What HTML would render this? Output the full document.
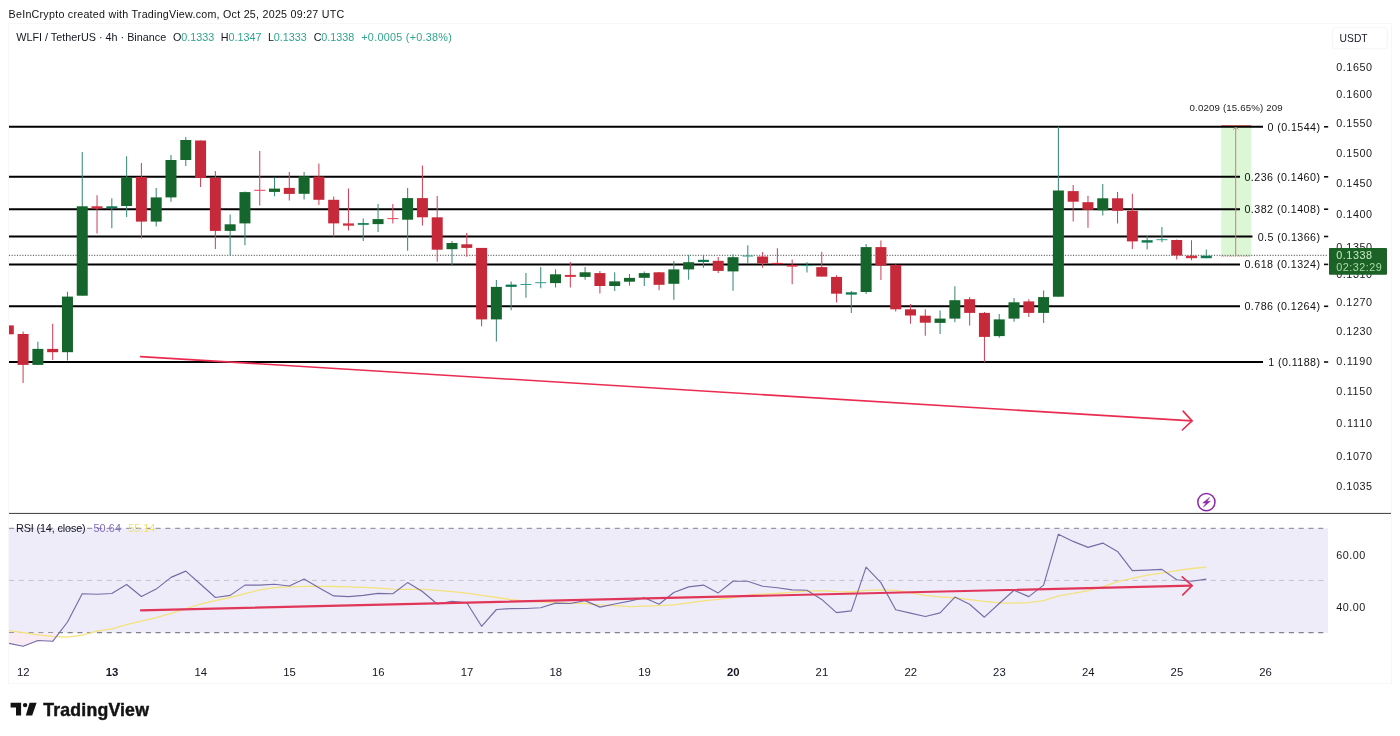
<!DOCTYPE html>
<html lang="en"><head><meta charset="utf-8"><title>WLFI / TetherUS 4h chart</title>
<style>html,body{margin:0;padding:0;background:#fff;}body{width:1400px;height:736px;overflow:hidden;}svg{display:block;}text{font-family:'Liberation Sans', sans-serif;}</style>
</head><body>
<svg width="1400" height="736" viewBox="0 0 1400 736">
<defs><clipPath id="pane"><rect x="9" y="24" width="1319" height="489"/></clipPath><clipPath id="rsipane"><rect x="9" y="514" width="1319" height="142"/></clipPath></defs>
<rect width="1400" height="736" fill="#ffffff"/>
<text x="8.6" y="17.5" font-size="10.7" fill="#111111" textLength="335.6" lengthAdjust="spacing">BeInCrypto created with TradingView.com, Oct 25, 2025 09:27 UTC</text>
<rect x="8.5" y="23.5" width="1383" height="660" fill="none" stroke="#f7f7f7" stroke-width="1"/>
<rect x="9" y="528.4" width="1319" height="104.3" fill="#efecf9"/>
<rect x="1221.2" y="126.5" width="30" height="129.5" fill="#dcf7d6"/>
<line x1="1221.2" y1="125.9" x2="1251.2" y2="125.9" stroke="#e0453a" stroke-width="1.2"/>
<g stroke="#000000" stroke-width="2">
<line x1="9" y1="126.8" x2="1263" y2="126.8"/>
<line x1="9" y1="176.8" x2="1240" y2="176.8"/>
<line x1="9" y1="209.2" x2="1240" y2="209.2"/>
<line x1="9" y1="236.5" x2="1252.5" y2="236.5"/>
<line x1="9" y1="264.4" x2="1240" y2="264.4"/>
<line x1="9" y1="306.3" x2="1240" y2="306.3"/>
<line x1="9" y1="362.0" x2="1263" y2="362.0"/>
</g>
<g stroke="#000000" stroke-width="2">
</g>
<line x1="9" y1="255.4" x2="1328" y2="255.4" stroke="#666e68" stroke-width="1.1" stroke-dasharray="1.1 1.56"/>
<g clip-path="url(#pane)">
<g stroke-width="1.05"><line x1="8.30" y1="325.4" x2="8.30" y2="334.3" stroke="#d2435a"/><line x1="23.09" y1="331.4" x2="23.09" y2="382.9" stroke="#d2435a"/><line x1="37.88" y1="341.7" x2="37.88" y2="364.9" stroke="#3b8a78"/><line x1="52.67" y1="323.7" x2="52.67" y2="360.0" stroke="#d2435a"/><line x1="67.46" y1="291.7" x2="67.46" y2="360.6" stroke="#3b8a78"/><line x1="82.25" y1="152.0" x2="82.25" y2="295.7" stroke="#3b8a78"/><line x1="97.04" y1="195.2" x2="97.04" y2="233.6" stroke="#d2435a"/><line x1="111.83" y1="198.3" x2="111.83" y2="228.3" stroke="#3b8a78"/><line x1="126.62" y1="156.3" x2="126.62" y2="217.1" stroke="#3b8a78"/><line x1="141.41" y1="163.1" x2="141.41" y2="238.6" stroke="#d2435a"/><line x1="156.20" y1="188.0" x2="156.20" y2="226.6" stroke="#3b8a78"/><line x1="170.99" y1="154.9" x2="170.99" y2="201.7" stroke="#3b8a78"/><line x1="185.78" y1="136.9" x2="185.78" y2="166.0" stroke="#3b8a78"/><line x1="200.57" y1="140.5" x2="200.57" y2="187.1" stroke="#d2435a"/><line x1="215.36" y1="170.9" x2="215.36" y2="248.9" stroke="#d2435a"/><line x1="230.15" y1="214.6" x2="230.15" y2="255.2" stroke="#3b8a78"/><line x1="244.94" y1="191.4" x2="244.94" y2="245.3" stroke="#3b8a78"/><line x1="259.73" y1="150.9" x2="259.73" y2="205.4" stroke="#d2435a"/><line x1="274.52" y1="177.7" x2="274.52" y2="196.3" stroke="#3b8a78"/><line x1="289.31" y1="172.0" x2="289.31" y2="200.6" stroke="#d2435a"/><line x1="304.10" y1="172.0" x2="304.10" y2="199.4" stroke="#3b8a78"/><line x1="318.89" y1="163.4" x2="318.89" y2="205.1" stroke="#d2435a"/><line x1="333.68" y1="196.5" x2="333.68" y2="236.5" stroke="#d2435a"/><line x1="348.47" y1="188.6" x2="348.47" y2="230.6" stroke="#d2435a"/><line x1="363.26" y1="218.6" x2="363.26" y2="241.1" stroke="#3b8a78"/><line x1="378.05" y1="204.1" x2="378.05" y2="232.0" stroke="#3b8a78"/><line x1="392.84" y1="204.1" x2="392.84" y2="223.4" stroke="#d2435a"/><line x1="407.63" y1="187.9" x2="407.63" y2="250.8" stroke="#3b8a78"/><line x1="422.42" y1="165.5" x2="422.42" y2="225.5" stroke="#d2435a"/><line x1="437.21" y1="196.0" x2="437.21" y2="261.7" stroke="#d2435a"/><line x1="452.00" y1="241.1" x2="452.00" y2="265.7" stroke="#3b8a78"/><line x1="466.79" y1="232.9" x2="466.79" y2="256.7" stroke="#d2435a"/><line x1="481.58" y1="247.9" x2="481.58" y2="326.3" stroke="#d2435a"/><line x1="496.37" y1="280.0" x2="496.37" y2="341.4" stroke="#3b8a78"/><line x1="511.16" y1="281.4" x2="511.16" y2="310.3" stroke="#3b8a78"/><line x1="525.95" y1="273.1" x2="525.95" y2="297.7" stroke="#3b8a78"/><line x1="540.74" y1="267.1" x2="540.74" y2="288.2" stroke="#3b8a78"/><line x1="555.53" y1="269.2" x2="555.53" y2="287.4" stroke="#3b8a78"/><line x1="570.32" y1="262.0" x2="570.32" y2="287.4" stroke="#d2435a"/><line x1="585.11" y1="267.1" x2="585.11" y2="279.7" stroke="#3b8a78"/><line x1="599.90" y1="270.9" x2="599.90" y2="293.4" stroke="#d2435a"/><line x1="614.69" y1="272.3" x2="614.69" y2="291.1" stroke="#3b8a78"/><line x1="629.48" y1="274.0" x2="629.48" y2="285.7" stroke="#3b8a78"/><line x1="644.27" y1="271.4" x2="644.27" y2="286.0" stroke="#3b8a78"/><line x1="659.06" y1="272.0" x2="659.06" y2="290.3" stroke="#d2435a"/><line x1="673.85" y1="261.1" x2="673.85" y2="299.7" stroke="#3b8a78"/><line x1="688.64" y1="254.8" x2="688.64" y2="279.7" stroke="#3b8a78"/><line x1="703.43" y1="254.8" x2="703.43" y2="267.7" stroke="#3b8a78"/><line x1="718.22" y1="256.9" x2="718.22" y2="273.1" stroke="#d2435a"/><line x1="733.01" y1="254.3" x2="733.01" y2="290.8" stroke="#3b8a78"/><line x1="747.80" y1="245.2" x2="747.80" y2="263.2" stroke="#3b8a78"/><line x1="762.59" y1="252.1" x2="762.59" y2="267.7" stroke="#d2435a"/><line x1="777.38" y1="248.3" x2="777.38" y2="264.2" stroke="#d2435a"/><line x1="792.17" y1="259.4" x2="792.17" y2="284.3" stroke="#d2435a"/><line x1="806.96" y1="262.3" x2="806.96" y2="272.6" stroke="#3b8a78"/><line x1="821.75" y1="251.7" x2="821.75" y2="276.6" stroke="#d2435a"/><line x1="836.54" y1="275.2" x2="836.54" y2="302.6" stroke="#d2435a"/><line x1="851.33" y1="291.1" x2="851.33" y2="313.1" stroke="#3b8a78"/><line x1="866.12" y1="244.0" x2="866.12" y2="294.1" stroke="#3b8a78"/><line x1="880.91" y1="240.6" x2="880.91" y2="280.0" stroke="#d2435a"/><line x1="895.70" y1="264.2" x2="895.70" y2="311.4" stroke="#d2435a"/><line x1="910.49" y1="304.0" x2="910.49" y2="323.7" stroke="#d2435a"/><line x1="925.28" y1="309.3" x2="925.28" y2="335.7" stroke="#d2435a"/><line x1="940.07" y1="310.5" x2="940.07" y2="334.0" stroke="#3b8a78"/><line x1="954.86" y1="286.3" x2="954.86" y2="322.3" stroke="#3b8a78"/><line x1="969.65" y1="297.1" x2="969.65" y2="325.4" stroke="#d2435a"/><line x1="984.44" y1="312.0" x2="984.44" y2="362.3" stroke="#d2435a"/><line x1="999.23" y1="313.9" x2="999.23" y2="337.8" stroke="#3b8a78"/><line x1="1014.02" y1="298.0" x2="1014.02" y2="321.7" stroke="#3b8a78"/><line x1="1028.81" y1="299.2" x2="1028.81" y2="316.9" stroke="#d2435a"/><line x1="1043.60" y1="290.6" x2="1043.60" y2="322.9" stroke="#3b8a78"/><line x1="1058.39" y1="126.6" x2="1058.39" y2="296.7" stroke="#3b8a78"/><line x1="1073.18" y1="184.9" x2="1073.18" y2="221.4" stroke="#d2435a"/><line x1="1087.97" y1="195.7" x2="1087.97" y2="227.8" stroke="#d2435a"/><line x1="1102.76" y1="184.1" x2="1102.76" y2="215.4" stroke="#3b8a78"/><line x1="1117.55" y1="192.0" x2="1117.55" y2="223.5" stroke="#d2435a"/><line x1="1132.34" y1="193.7" x2="1132.34" y2="249.1" stroke="#d2435a"/><line x1="1147.13" y1="236.0" x2="1147.13" y2="249.5" stroke="#3b8a78"/><line x1="1161.92" y1="227.1" x2="1161.92" y2="242.3" stroke="#3b8a78"/><line x1="1176.71" y1="239.5" x2="1176.71" y2="259.4" stroke="#d2435a"/><line x1="1191.50" y1="240.2" x2="1191.50" y2="260.3" stroke="#d2435a"/><line x1="1206.29" y1="249.5" x2="1206.29" y2="258.2" stroke="#3b8a78"/></g>
<rect x="2.80" y="325.4" width="11" height="8.9" fill="#c62a3a"/><rect x="17.59" y="334.0" width="11" height="30.9" fill="#c62a3a"/><rect x="32.38" y="348.9" width="11" height="16.0" fill="#15662c"/><rect x="47.17" y="348.9" width="11" height="3.3" fill="#c62a3a"/><rect x="61.96" y="296.6" width="11" height="55.6" fill="#15662c"/><rect x="76.75" y="206.3" width="11" height="89.4" fill="#15662c"/><rect x="91.54" y="206.3" width="11" height="2.3" fill="#d62f42"/><rect x="106.33" y="206.3" width="11" height="1.9" fill="#0f7a52"/><rect x="121.12" y="177.2" width="11" height="28.8" fill="#15662c"/><rect x="135.91" y="176.9" width="11" height="44.7" fill="#c62a3a"/><rect x="150.70" y="197.4" width="11" height="24.2" fill="#15662c"/><rect x="165.49" y="160.0" width="11" height="37.4" fill="#15662c"/><rect x="180.28" y="140.0" width="11" height="20.0" fill="#15662c"/><rect x="195.07" y="140.5" width="11" height="37.5" fill="#c62a3a"/><rect x="209.86" y="177.7" width="11" height="53.2" fill="#c62a3a"/><rect x="224.65" y="224.3" width="11" height="6.6" fill="#15662c"/><rect x="239.44" y="192.1" width="11" height="31.3" fill="#15662c"/><rect x="254.23" y="189.8" width="11" height="1.0" fill="#ee3d55"/><rect x="269.02" y="188.6" width="11" height="3.3" fill="#15662c"/><rect x="283.81" y="187.9" width="11" height="6.0" fill="#c62a3a"/><rect x="298.60" y="176.3" width="11" height="17.5" fill="#15662c"/><rect x="313.39" y="176.6" width="11" height="23.2" fill="#c62a3a"/><rect x="328.18" y="199.8" width="11" height="23.6" fill="#c62a3a"/><rect x="342.97" y="223.4" width="11" height="2.3" fill="#d62f42"/><rect x="357.76" y="223.1" width="11" height="1.7" fill="#0f7a52"/><rect x="372.55" y="219.1" width="11" height="5.0" fill="#15662c"/><rect x="387.34" y="218.1" width="11" height="1.0" fill="#ee3d55"/><rect x="402.13" y="198.1" width="11" height="21.6" fill="#15662c"/><rect x="416.92" y="198.1" width="11" height="19.2" fill="#c62a3a"/><rect x="431.71" y="217.3" width="11" height="32.4" fill="#c62a3a"/><rect x="446.50" y="243.0" width="11" height="6.2" fill="#15662c"/><rect x="461.29" y="244.3" width="11" height="3.6" fill="#c62a3a"/><rect x="476.08" y="247.9" width="11" height="71.5" fill="#c62a3a"/><rect x="490.87" y="286.9" width="11" height="32.5" fill="#15662c"/><rect x="505.66" y="284.6" width="11" height="2.3" fill="#0f7a52"/><rect x="520.45" y="284.0" width="11" height="1.0" fill="#2f9e8c"/><rect x="535.24" y="282.2" width="11" height="1.0" fill="#2f9e8c"/><rect x="550.03" y="274.3" width="11" height="8.8" fill="#15662c"/><rect x="564.82" y="274.9" width="11" height="2.0" fill="#d62f42"/><rect x="579.61" y="272.3" width="11" height="4.6" fill="#15662c"/><rect x="594.40" y="273.1" width="11" height="12.9" fill="#c62a3a"/><rect x="609.19" y="281.4" width="11" height="4.6" fill="#15662c"/><rect x="623.98" y="277.9" width="11" height="3.8" fill="#15662c"/><rect x="638.77" y="273.1" width="11" height="4.7" fill="#15662c"/><rect x="653.56" y="272.3" width="11" height="12.5" fill="#c62a3a"/><rect x="668.35" y="269.4" width="11" height="14.4" fill="#15662c"/><rect x="683.14" y="262.2" width="11" height="7.2" fill="#15662c"/><rect x="697.93" y="259.8" width="11" height="2.2" fill="#0f7a52"/><rect x="712.72" y="260.8" width="11" height="10.1" fill="#c62a3a"/><rect x="727.51" y="257.2" width="11" height="14.2" fill="#15662c"/><rect x="742.30" y="255.5" width="11" height="1.0" fill="#2f9e8c"/><rect x="757.09" y="256.5" width="11" height="6.9" fill="#c62a3a"/><rect x="771.88" y="262.9" width="11" height="1.3" fill="#d62f42"/><rect x="786.67" y="264.9" width="11" height="1.7" fill="#d62f42"/><rect x="801.46" y="265.1" width="11" height="1.0" fill="#2f9e8c"/><rect x="816.25" y="267.1" width="11" height="9.5" fill="#c62a3a"/><rect x="831.04" y="276.9" width="11" height="16.8" fill="#c62a3a"/><rect x="845.83" y="292.3" width="11" height="2.3" fill="#0f7a52"/><rect x="860.62" y="247.1" width="11" height="44.9" fill="#15662c"/><rect x="875.41" y="247.1" width="11" height="18.5" fill="#c62a3a"/><rect x="890.20" y="264.9" width="11" height="44.4" fill="#c62a3a"/><rect x="904.99" y="309.3" width="11" height="6.2" fill="#c62a3a"/><rect x="919.78" y="315.7" width="11" height="7.0" fill="#c62a3a"/><rect x="934.57" y="318.6" width="11" height="4.3" fill="#15662c"/><rect x="949.36" y="300.2" width="11" height="18.4" fill="#15662c"/><rect x="964.15" y="299.2" width="11" height="13.7" fill="#c62a3a"/><rect x="978.94" y="312.9" width="11" height="24.0" fill="#c62a3a"/><rect x="993.73" y="319.4" width="11" height="16.7" fill="#15662c"/><rect x="1008.52" y="302.3" width="11" height="16.3" fill="#15662c"/><rect x="1023.31" y="301.4" width="11" height="11.5" fill="#c62a3a"/><rect x="1038.10" y="297.1" width="11" height="15.8" fill="#15662c"/><rect x="1052.89" y="190.5" width="11" height="106.2" fill="#15662c"/><rect x="1067.68" y="191.1" width="11" height="10.6" fill="#c62a3a"/><rect x="1082.47" y="202.2" width="11" height="7.6" fill="#c62a3a"/><rect x="1097.26" y="198.3" width="11" height="12.0" fill="#15662c"/><rect x="1112.05" y="198.3" width="11" height="12.5" fill="#c62a3a"/><rect x="1126.84" y="210.8" width="11" height="30.6" fill="#c62a3a"/><rect x="1141.63" y="240.2" width="11" height="2.4" fill="#0f7a52"/><rect x="1156.42" y="239.2" width="11" height="1.0" fill="#2f9e8c"/><rect x="1171.21" y="240.0" width="11" height="15.5" fill="#c62a3a"/><rect x="1186.00" y="255.7" width="11" height="2.5" fill="#d62f42"/><rect x="1200.79" y="255.7" width="11" height="2.5" fill="#0f7a52"/>
</g>
<g stroke="#e27468" stroke-width="1" fill="none">
<line x1="1235.7" y1="127" x2="1235.7" y2="256"/>
<line x1="1221.2" y1="256.2" x2="1251.2" y2="256.2" stroke-dasharray="1 1"/>
<polyline points="1233.2,129.6 1235.7,127 1238.2,129.6" stroke="#9a8a6a"/>
</g>
<text x="1189.6" y="111.3" font-size="9.7" fill="#1c1c1c" textLength="93" lengthAdjust="spacing">0.0209 (15.65%) 209</text>
<g stroke="#ea2c50" stroke-width="1.6" fill="none" stroke-linecap="round" stroke-linejoin="round">
<line x1="140.6" y1="356.6" x2="1192" y2="420.9"/>
<polyline points="1183.1,411.1 1192,420.9 1182.3,430"/>
</g>
<text x="1320" y="130.8" font-size="10.7" fill="#111111" text-anchor="end" textLength="52.5" lengthAdjust="spacing">0 (0.1544)</text>
<rect x="1324" y="126.0" width="4.2" height="1.6" fill="#111111"/>
<text x="1320" y="180.9" font-size="10.7" fill="#111111" text-anchor="end" textLength="75.6" lengthAdjust="spacing">0.236 (0.1460)</text>
<rect x="1324" y="176.0" width="4.2" height="1.6" fill="#111111"/>
<text x="1320" y="213.2" font-size="10.7" fill="#111111" text-anchor="end" textLength="75.6" lengthAdjust="spacing">0.382 (0.1408)</text>
<rect x="1324" y="208.4" width="4.2" height="1.6" fill="#111111"/>
<text x="1320" y="240.6" font-size="10.7" fill="#111111" text-anchor="end" textLength="62.3" lengthAdjust="spacing">0.5 (0.1366)</text>
<rect x="1324" y="235.7" width="4.2" height="1.6" fill="#111111"/>
<text x="1320" y="268.4" font-size="10.7" fill="#111111" text-anchor="end" textLength="75.6" lengthAdjust="spacing">0.618 (0.1324)</text>
<rect x="1324" y="263.6" width="4.2" height="1.6" fill="#111111"/>
<text x="1320" y="310.4" font-size="10.7" fill="#111111" text-anchor="end" textLength="75.6" lengthAdjust="spacing">0.786 (0.1264)</text>
<rect x="1324" y="305.5" width="4.2" height="1.6" fill="#111111"/>
<text x="1320" y="366.1" font-size="10.7" fill="#111111" text-anchor="end" textLength="51.8" lengthAdjust="spacing">1 (0.1188)</text>
<rect x="1324" y="361.2" width="4.2" height="1.6" fill="#111111"/>
<text x="1336.3" y="70.5" font-size="10.8" fill="#1a1a1a" textLength="35.7" lengthAdjust="spacing">0.1650</text>
<text x="1336.3" y="97.9" font-size="10.8" fill="#1a1a1a" textLength="35.7" lengthAdjust="spacing">0.1600</text>
<text x="1336.3" y="127.2" font-size="10.8" fill="#1a1a1a" textLength="35.7" lengthAdjust="spacing">0.1550</text>
<text x="1336.3" y="156.6" font-size="10.8" fill="#1a1a1a" textLength="35.7" lengthAdjust="spacing">0.1500</text>
<text x="1336.3" y="187.0" font-size="10.8" fill="#1a1a1a" textLength="35.7" lengthAdjust="spacing">0.1450</text>
<text x="1336.3" y="218.0" font-size="10.8" fill="#1a1a1a" textLength="35.7" lengthAdjust="spacing">0.1400</text>
<text x="1336.3" y="250.9" font-size="10.8" fill="#1a1a1a" textLength="35.7" lengthAdjust="spacing">0.1350</text>
<text x="1336.3" y="277.9" font-size="10.8" fill="#1a1a1a" textLength="35.7" lengthAdjust="spacing">0.1310</text>
<text x="1336.3" y="306.2" font-size="10.8" fill="#1a1a1a" textLength="35.7" lengthAdjust="spacing">0.1270</text>
<text x="1336.3" y="334.9" font-size="10.8" fill="#1a1a1a" textLength="35.7" lengthAdjust="spacing">0.1230</text>
<text x="1336.3" y="364.5" font-size="10.8" fill="#1a1a1a" textLength="35.7" lengthAdjust="spacing">0.1190</text>
<text x="1336.3" y="395.4" font-size="10.8" fill="#1a1a1a" textLength="35.7" lengthAdjust="spacing">0.1150</text>
<text x="1336.3" y="427.1" font-size="10.8" fill="#1a1a1a" textLength="35.7" lengthAdjust="spacing">0.1110</text>
<text x="1336.3" y="460.0" font-size="10.8" fill="#1a1a1a" textLength="35.7" lengthAdjust="spacing">0.1070</text>
<text x="1336.3" y="489.8" font-size="10.8" fill="#1a1a1a" textLength="35.7" lengthAdjust="spacing">0.1035</text>
<rect x="1332.3" y="27.8" width="55" height="21" rx="3" ry="3" fill="#ffffff" stroke="#f4f4f4" stroke-width="1"/>
<text x="1339.6" y="42.2" font-size="10.3" fill="#131722" textLength="28" lengthAdjust="spacing">USDT</text>
<rect x="1329" y="247.9" width="58" height="26.8" rx="1" fill="#1c6226"/>
<text x="1336.3" y="259.0" font-size="10.8" fill="#c5ecc4" textLength="35.7" lengthAdjust="spacing">0.1338</text>
<text x="1336.3" y="271.4" font-size="10.8" fill="#a9dca8" textLength="45.5" lengthAdjust="spacing">02:32:29</text>
<text x="16.2" y="41.4" font-size="10.8" fill="#131722" textLength="150" lengthAdjust="spacing">WLFI / TetherUS · 4h · Binance</text>
<text x="173" y="41.4" font-size="10.8" fill="#131722">O</text>
<text x="181.3" y="41.4" font-size="10.8" fill="#2fa58e" textLength="33" lengthAdjust="spacing">0.1333</text>
<text x="220.7" y="41.4" font-size="10.8" fill="#131722">H</text>
<text x="228.6" y="41.4" font-size="10.8" fill="#2fa58e" textLength="33" lengthAdjust="spacing">0.1347</text>
<text x="268" y="41.4" font-size="10.8" fill="#131722">L</text>
<text x="273.8" y="41.4" font-size="10.8" fill="#2fa58e" textLength="33" lengthAdjust="spacing">0.1333</text>
<text x="313.7" y="41.4" font-size="10.8" fill="#131722">C</text>
<text x="321.3" y="41.4" font-size="10.8" fill="#2fa58e" textLength="33" lengthAdjust="spacing">0.1338</text>
<text x="361.3" y="41.4" font-size="10.8" fill="#2fa58e" textLength="90.5" lengthAdjust="spacing">+0.0005 (+0.38%)</text>
<rect x="9" y="512.9" width="1382" height="1.1" fill="#4d4d4d"/>
<g fill="none">
<line x1="9" y1="528.3" x2="1328" y2="528.3" stroke="#7f8290" stroke-width="1" stroke-dasharray="5.1 4.67"/>
<line x1="9" y1="580.4" x2="1328" y2="580.4" stroke="#c4c3d0" stroke-width="1" stroke-dasharray="5.1 4.67"/>
<line x1="9" y1="632.7" x2="1328" y2="632.7" stroke="#7f8290" stroke-width="1.2" stroke-dasharray="5.1 4.67"/>
</g>
<g clip-path="url(#rsipane)">
<polygon points="9,632.7 8.3,643.3 23.1,646.3 37.9,640.5 52.7,641.3 60,632.7" fill="#f7e9f3" opacity="0.9"/>
<polyline points="8.3,630.5 23.1,632.6 37.9,634.9 52.7,636.4 67.5,637.1 82.2,635.2 97.0,631.1 111.8,628.9 126.6,624.6 141.4,621.1 156.2,617.7 171.0,613.4 185.8,608.8 200.6,604.0 215.4,600.6 230.2,597.5 244.9,593.7 259.7,589.9 274.5,587.7 289.3,586.9 304.1,586.3 318.9,586.3 333.7,586.5 348.5,586.9 363.3,587.4 378.1,588.2 392.8,589.1 407.6,589.4 422.4,589.4 437.2,590.3 452.0,591.7 466.8,593.2 481.6,595.4 496.4,597.5 511.2,599.7 525.9,601.1 540.7,601.9 555.5,602.6 570.3,603.1 585.1,603.5 599.9,604.9 614.7,605.7 629.5,606.6 644.3,606.2 659.1,605.7 673.8,604.9 688.6,602.8 703.4,600.9 718.2,599.4 733.0,597.5 747.8,595.4 762.6,594.2 777.4,593.4 792.2,592.3 807.0,591.1 821.7,590.6 836.5,591.7 851.3,592.0 866.1,590.3 880.9,589.9 895.7,590.3 910.5,592.9 925.3,595.3 940.1,596.8 954.9,598.0 969.6,599.7 984.4,601.4 999.2,602.8 1014.0,603.1 1028.8,602.6 1043.6,600.6 1058.4,595.8 1073.2,593.4 1088.0,590.6 1102.8,586.9 1117.5,581.7 1132.3,578.3 1147.1,575.2 1161.9,573.1 1176.7,570.6 1191.5,568.5 1206.3,567.1" fill="none" stroke="#f3e27d" stroke-width="1.3" stroke-linejoin="round"/>
<polyline points="8.3,643.3 23.1,646.3 37.9,640.5 52.7,641.3 67.5,622.0 82.2,593.7 97.0,594.2 111.8,593.5 126.6,584.5 141.4,596.5 156.2,589.1 171.0,577.4 185.8,571.1 200.6,584.3 215.4,597.5 230.2,595.4 244.9,585.1 259.7,585.1 274.5,584.3 289.3,586.0 304.1,579.1 318.9,587.7 333.7,595.9 348.5,596.6 363.3,595.4 378.1,593.4 392.8,593.7 407.6,582.6 422.4,591.5 437.2,604.0 452.0,601.4 466.8,602.7 481.6,626.3 496.4,609.5 511.2,608.6 525.9,608.5 540.7,607.8 555.5,603.1 570.3,603.5 585.1,600.6 599.9,607.1 614.7,604.0 629.5,601.1 644.3,597.7 659.1,604.3 673.8,592.5 688.6,586.9 703.4,585.1 718.2,592.9 733.0,581.2 747.8,581.2 762.6,586.3 777.4,587.7 792.2,589.9 807.0,590.3 821.7,599.4 836.5,612.6 851.3,610.9 866.1,567.1 880.9,582.6 895.7,609.7 910.5,613.1 925.3,616.5 940.1,612.9 954.9,597.1 969.6,604.3 984.4,617.2 999.2,603.5 1014.0,590.3 1028.8,596.6 1043.6,585.1 1058.4,534.2 1073.2,541.4 1088.0,547.4 1102.8,543.1 1117.5,551.4 1132.3,570.6 1147.1,570.1 1161.9,569.4 1176.7,579.7 1191.5,581.2 1206.3,579.1" fill="none" stroke="#766ca6" stroke-width="1.15" stroke-linejoin="round"/>
</g>
<g stroke="#e0365a" stroke-width="2.2" fill="none" stroke-linecap="round" stroke-linejoin="round">
<line x1="140.9" y1="610.3" x2="1191.5" y2="585.7"/>
<polyline points="1182.3,576.9 1192.1,585.7 1182.8,594.9" stroke-width="1.8"/>
</g>
<text x="16" y="531.9" font-size="10.8" fill="#131722" textLength="69.7" lengthAdjust="spacing">RSI (14, close)</text>
<text x="93.4" y="531.9" font-size="10.8" fill="#7e6cc0" textLength="27.5" lengthAdjust="spacing">50.64</text>
<text x="128.2" y="531.9" font-size="10.8" fill="#f3df6e" textLength="27" lengthAdjust="spacing">55.14</text>
<text x="1336.3" y="558.9" font-size="10.8" fill="#1a1a1a" textLength="29" lengthAdjust="spacing">60.00</text>
<text x="1336.3" y="611.2" font-size="10.8" fill="#1a1a1a" textLength="29" lengthAdjust="spacing">40.00</text>
<text x="23.3" y="675.7" font-size="11.3" fill="#131722" text-anchor="middle">12</text>
<text x="112.0" y="675.7" font-size="11.3" fill="#131722" text-anchor="middle" font-weight="bold">13</text>
<text x="200.8" y="675.7" font-size="11.3" fill="#131722" text-anchor="middle">14</text>
<text x="289.5" y="675.7" font-size="11.3" fill="#131722" text-anchor="middle">15</text>
<text x="378.2" y="675.7" font-size="11.3" fill="#131722" text-anchor="middle">16</text>
<text x="467.0" y="675.7" font-size="11.3" fill="#131722" text-anchor="middle">17</text>
<text x="555.7" y="675.7" font-size="11.3" fill="#131722" text-anchor="middle">18</text>
<text x="644.5" y="675.7" font-size="11.3" fill="#131722" text-anchor="middle">19</text>
<text x="733.2" y="675.7" font-size="11.3" fill="#131722" text-anchor="middle" font-weight="bold">20</text>
<text x="821.9" y="675.7" font-size="11.3" fill="#131722" text-anchor="middle">21</text>
<text x="910.7" y="675.7" font-size="11.3" fill="#131722" text-anchor="middle">22</text>
<text x="999.4" y="675.7" font-size="11.3" fill="#131722" text-anchor="middle">23</text>
<text x="1088.2" y="675.7" font-size="11.3" fill="#131722" text-anchor="middle">24</text>
<text x="1176.9" y="675.7" font-size="11.3" fill="#131722" text-anchor="middle">25</text>
<text x="1265.6" y="675.7" font-size="11.3" fill="#131722" text-anchor="middle">26</text>
<g>
<circle cx="1206.4" cy="502.1" r="8.6" fill="#ffffff" stroke="#8d2aa8" stroke-width="1.5"/>
<path d="M1209.6 497.4 L1202.7 503.0 L1206.0 503.0 L1203.4 507.0 L1210.4 501.3 L1207.1 501.3 Z" fill="#8d2aa8" stroke="#8d2aa8" stroke-width="0.5" stroke-linejoin="round"/>
</g>
<g fill="#131313">
<path d="M10.6 702.8 H21.1 V715.4 H16 V707.4 H10.6 Z"/>
<circle cx="25.1" cy="705.1" r="2.2"/>
<path d="M29.6 702.8 H36.6 L32.2 715.4 H25.8 Z"/>
</g>
<text x="43.3" y="715.5" font-size="17.7" fill="#131313" font-weight="bold" textLength="105.6" lengthAdjust="spacing" stroke="#131313" stroke-width="0.45">TradingView</text>
</svg>
</body></html>
